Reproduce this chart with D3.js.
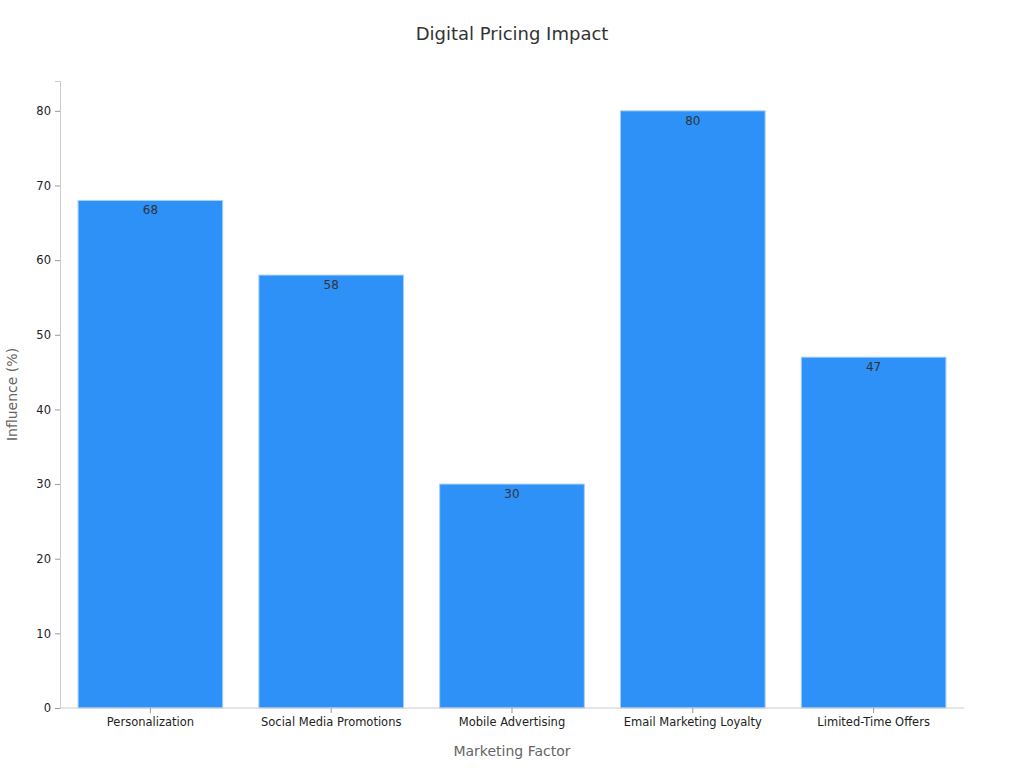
<!doctype html>
<html>
<head>
<meta charset="utf-8">
<script src="https://cdnjs.cloudflare.com/ajax/libs/d3/7.8.5/d3.min.js"></script>
<style>
body { margin:0; background:#fff; }
text { font-family: "DejaVu Sans", sans-serif; }
</style>
</head>
<body>
<div id="chart"></div>
<script>
var categories = ["Personalization", "Social Media Promotions", "Mobile Advertising", "Email Marketing Loyalty", "Limited-Time Offers"];
var values = [68, 58, 30, 80, 47];
var yTicks = [0, 10, 20, 30, 40, 50, 60, 70, 80];

var width = 1024, height = 768;
var margin = {top: 81, right: 60, bottom: 60, left: 60};

var svg = d3.select("#chart").append("svg")
    .attr("width", width).attr("height", height);

var x = d3.scaleBand().domain(categories)
    .range([margin.left, width - margin.right])
    .paddingInner(0.2).paddingOuter(0.1);
var y = d3.scaleLinear().domain([0, 84])
    .range([height - margin.bottom, margin.top]);

svg.append("text")
    .attr("x", 512).attr("y", 40)
    .attr("text-anchor", "middle")
    .style("font-size", "18px").style("fill", "#333")
    .text("Digital Pricing Impact");

svg.selectAll("rect.bar").data(values).enter().append("rect")
    .attr("class", "bar")
    .attr("x", function(d, i) { return x(categories[i]); })
    .attr("y", function(d) { return y(d); })
    .attr("width", x.bandwidth())
    .attr("height", function(d) { return y(0) - y(d); })
    .attr("fill", "#2e91f7")
    .attr("stroke", "#a9cdf5").attr("stroke-width", 1);

svg.selectAll("text.lbl").data(values).enter().append("text")
    .attr("class", "lbl")
    .attr("x", function(d, i) { return x(categories[i]) + x.bandwidth() / 2; })
    .attr("y", function(d) { return y(d) + 14; })
    .attr("text-anchor", "middle")
    .style("font-size", "12px").style("fill", "#333")
    .text(function(d) { return d; });

var yAxis = svg.append("g")
    .attr("transform", "translate(" + margin.left + ",0)")
    .call(d3.axisLeft(y).tickValues(yTicks).tickSize(5).tickPadding(4));
var xAxis = svg.append("g")
    .attr("transform", "translate(0," + y(0) + ")")
    .call(d3.axisBottom(x).tickSize(5).tickPadding(5));

[yAxis, xAxis].forEach(function(a) {
  a.select(".domain").attr("stroke", "#ccc");
  a.selectAll(".tick line").attr("stroke", "#999");
  a.selectAll(".tick text").style("font-size", "11.5px").style("fill", "#222")
    .style("font-family", "DejaVu Sans, sans-serif");
});
xAxis.select(".domain").attr("d", "M" + margin.left + ",0H" + (width - margin.right));

svg.append("text")
    .attr("x", 512).attr("y", 756)
    .attr("text-anchor", "middle")
    .style("font-size", "14px").style("fill", "#666")
    .text("Marketing Factor");

svg.append("text")
    .attr("transform", "translate(17," + ((margin.top + y(0)) / 2) + ") rotate(-90)")
    .attr("text-anchor", "middle")
    .style("font-size", "14px").style("fill", "#666")
    .text("Influence (%)");
</script>
</body>
</html>
